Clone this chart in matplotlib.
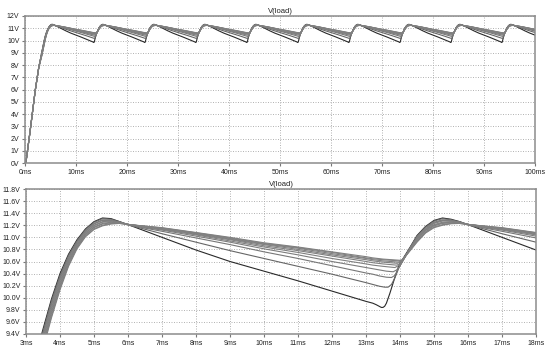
import matplotlib
matplotlib.use("Agg")
import matplotlib.pyplot as plt

plt.rcParams['font.family'] = ['Liberation Sans', 'DejaVu Sans']

# ---- data (V(load), 10 stepped runs) ----
# startup, common to all runs (ms, V)
t_start = [0.0, 0.2, 1.0, 2.0, 2.7]
v_start = [0.0, 0.1, 2.6, 5.9, 7.8]

# first rise / first peak (ms)
t_rise1 = [3.3, 3.5, 3.75, 4.0, 4.25, 4.5, 4.75, 5.0, 5.25, 5.5, 5.75, 6.05]
rise1_v = [
    [9.07, 9.48, 9.98, 10.40, 10.72, 10.96, 11.14, 11.26, 11.32, 11.31, 11.26, 11.20],
    [9.03, 9.44, 9.95, 10.37, 10.70, 10.94, 11.13, 11.25, 11.31, 11.30, 11.26, 11.20],
    [9.00, 9.41, 9.91, 10.34, 10.68, 10.93, 11.11, 11.23, 11.29, 11.29, 11.25, 11.20],
    [8.96, 9.37, 9.88, 10.31, 10.65, 10.91, 11.10, 11.22, 11.28, 11.28, 11.25, 11.20],
    [8.93, 9.33, 9.84, 10.28, 10.63, 10.89, 11.08, 11.20, 11.26, 11.27, 11.25, 11.21],
    [8.89, 9.30, 9.81, 10.25, 10.61, 10.88, 11.07, 11.19, 11.25, 11.26, 11.24, 11.21],
    [8.86, 9.26, 9.77, 10.22, 10.59, 10.86, 11.05, 11.17, 11.23, 11.25, 11.24, 11.21],
    [8.82, 9.22, 9.74, 10.19, 10.56, 10.84, 11.04, 11.16, 11.22, 11.24, 11.24, 11.21],
    [8.79, 9.19, 9.70, 10.16, 10.54, 10.83, 11.02, 11.14, 11.20, 11.23, 11.23, 11.21],
    [8.75, 9.15, 9.67, 10.13, 10.52, 10.81, 11.01, 11.13, 11.19, 11.22, 11.23, 11.21],
]

# discharge (ms)
t_decay = [7.0, 8.0, 9.0, 10.0, 11.0, 12.0, 13.0, 13.2]
decay_v = [
    [11.00, 10.79, 10.60, 10.44, 10.28, 10.11, 9.94, 9.91],
    [11.06, 10.92, 10.78, 10.65, 10.52, 10.39, 10.25, 10.22],
    [11.10, 10.99, 10.88, 10.76, 10.65, 10.53, 10.41, 10.39],
    [11.12, 11.02, 10.92, 10.81, 10.71, 10.60, 10.50, 10.48],
    [11.13, 11.04, 10.94, 10.84, 10.75, 10.65, 10.56, 10.54],
    [11.14, 11.05, 10.96, 10.86, 10.78, 10.69, 10.60, 10.58],
    [11.145, 11.06, 10.97, 10.88, 10.80, 10.71, 10.63, 10.61],
    [11.15, 11.07, 10.98, 10.89, 10.82, 10.73, 10.65, 10.63],
    [11.155, 11.075, 10.99, 10.90, 10.83, 10.75, 10.66, 10.645],
    [11.16, 11.08, 11.00, 10.91, 10.84, 10.76, 10.68, 10.66],
]

# trough of each run (ms, V)
trough_t = [
    [13.3, 13.4, 13.45, 13.5, 13.55, 13.6, 13.7, 13.84, 13.97],
    [13.4, 13.55, 13.65, 13.75, 13.85, 13.97],
    [13.4, 13.6, 13.75, 13.85, 13.97],
    [13.4, 13.6, 13.8, 13.9, 14.0],
    [13.5, 13.85, 13.95, 14.05],
    [13.5, 13.9, 14.0],
    [13.5, 13.92, 14.02],
    [13.5, 13.95, 14.05],
    [13.5, 13.97, 14.06],
    [13.5, 14.0, 14.08],
]
trough_v = [
    [9.885, 9.855, 9.84, 9.84, 9.86, 9.91, 10.07, 10.32, 10.54],
    [10.19, 10.175, 10.175, 10.22, 10.33, 10.50],
    [10.36, 10.34, 10.335, 10.37, 10.50],
    [10.46, 10.44, 10.43, 10.46, 10.53],
    [10.52, 10.50, 10.53, 10.58],
    [10.56, 10.54, 10.56],
    [10.59, 10.57, 10.59],
    [10.61, 10.59, 10.61],
    [10.63, 10.61, 10.62],
    [10.64, 10.62, 10.63],
]

# recharge / second peak (ms)
t_rise2 = [14.14, 14.3, 14.5, 14.75, 15.0, 15.25, 15.5, 15.75, 16.05]
rise2_v = [
    [10.65, 10.84, 11.03, 11.18, 11.28, 11.32, 11.30, 11.26, 11.20],
    [10.65, 10.83, 11.02, 11.17, 11.27, 11.31, 11.29, 11.26, 11.20],
    [10.65, 10.83, 11.01, 11.16, 11.25, 11.29, 11.28, 11.25, 11.20],
    [10.65, 10.82, 10.99, 11.14, 11.24, 11.28, 11.28, 11.25, 11.20],
    [10.65, 10.81, 10.98, 11.13, 11.23, 11.27, 11.27, 11.25, 11.21],
    [10.65, 10.81, 10.97, 11.12, 11.21, 11.25, 11.26, 11.24, 11.21],
    [10.65, 10.80, 10.96, 11.11, 11.20, 11.24, 11.25, 11.24, 11.21],
    [10.65, 10.79, 10.94, 11.09, 11.19, 11.23, 11.24, 11.24, 11.21],
    [10.65, 10.79, 10.93, 11.08, 11.17, 11.21, 11.23, 11.23, 11.21],
    [10.645, 10.78, 10.92, 11.07, 11.16, 11.20, 11.225, 11.23, 11.21],
]

run_colors = ['#2a2a2a', '#666666', '#777777', '#7c7c7c', '#808080',
              '#808080', '#808080', '#808080', '#808080', '#808080']

top_xticks = [0, 10, 20, 30, 40, 50, 60, 70, 80, 90, 100]
top_yticks = [0, 1, 2, 3, 4, 5, 6, 7, 8, 9, 10, 11, 12]
bot_xticks = [3, 4, 5, 6, 7, 8, 9, 10, 11, 12, 13, 14, 15, 16, 17, 18]
bot_yticks = [9.4, 9.6, 9.8, 10.0, 10.2, 10.4, 10.6, 10.8, 11.0, 11.2, 11.4, 11.6, 11.8]
period = 10.0
n_cycles = 10


def cycle_part(k, shift):
    t = [x + shift for x in t_decay] + [x + shift for x in trough_t[k]] + \
        [x + shift for x in t_rise2[1:]]
    v = decay_v[k] + trough_v[k] + rise2_v[k][1:]
    return t, v


def style(ax):
    ax.grid(True, color='#a8a8a8', linestyle=(0, (1.2, 1.8)), linewidth=0.6)
    ax.set_axisbelow(True)
    for s in ax.spines.values():
        s.set_color('#8c8c8c')
        s.set_linewidth(1.1)
    ax.tick_params(direction='out', length=2.5, width=0.8, color='#777777',
                   labelsize=5, pad=1.5, labelcolor='#222222')
    ax.set_title('V(load)', fontsize=5.5, pad=2.5, color='#222222')


fig = plt.figure(figsize=(5.53, 3.53), dpi=100)
W, H = 553.0, 353.0
ax1 = fig.add_axes([25 / W, 1 - 163 / H, 510 / W, 147 / H])
ax2 = fig.add_axes([26 / W, 1 - 334 / H, 510 / W, 145 / H])

for k in range(len(rise1_v)):
    # top: full 100 ms
    t = list(t_start) + list(t_rise1)
    v = list(v_start) + list(rise1_v[k])
    # first cycle's trough/rise use index positions relative to first cycle
    for c in range(n_cycles):
        tc, vc = cycle_part(k, c * period)
        t += tc
        v += vc
    ax1.plot(t, v, color=run_colors[k], linewidth=0.8)

    # bottom: 3 ms .. 18 ms
    tb = list(t_rise1)
    vb = list(rise1_v[k])
    tc, vc = cycle_part(k, 0.0)
    tb += tc + [x + period for x in t_decay[:2]]
    vb += vc + decay_v[k][:2]
    ax2.plot(tb, vb, color=run_colors[k], linewidth=0.8)

ax1.set_xlim(0, 100)
ax1.set_ylim(0, 12)
ax1.set_xticks(top_xticks)
ax1.set_xticklabels([f'{x}ms' for x in top_xticks])
ax1.set_yticks(top_yticks)
ax1.set_yticklabels([f'{y}V' for y in top_yticks])
style(ax1)

ax2.set_xlim(3, 18)
ax2.set_ylim(9.4, 11.8)
ax2.set_xticks(bot_xticks)
ax2.set_xticklabels([f'{x}ms' for x in bot_xticks])
ax2.set_yticks(bot_yticks)
ax2.set_yticklabels([f'{y:.1f}V' for y in bot_yticks])
style(ax2)

fig.savefig('out.png', dpi=100)
